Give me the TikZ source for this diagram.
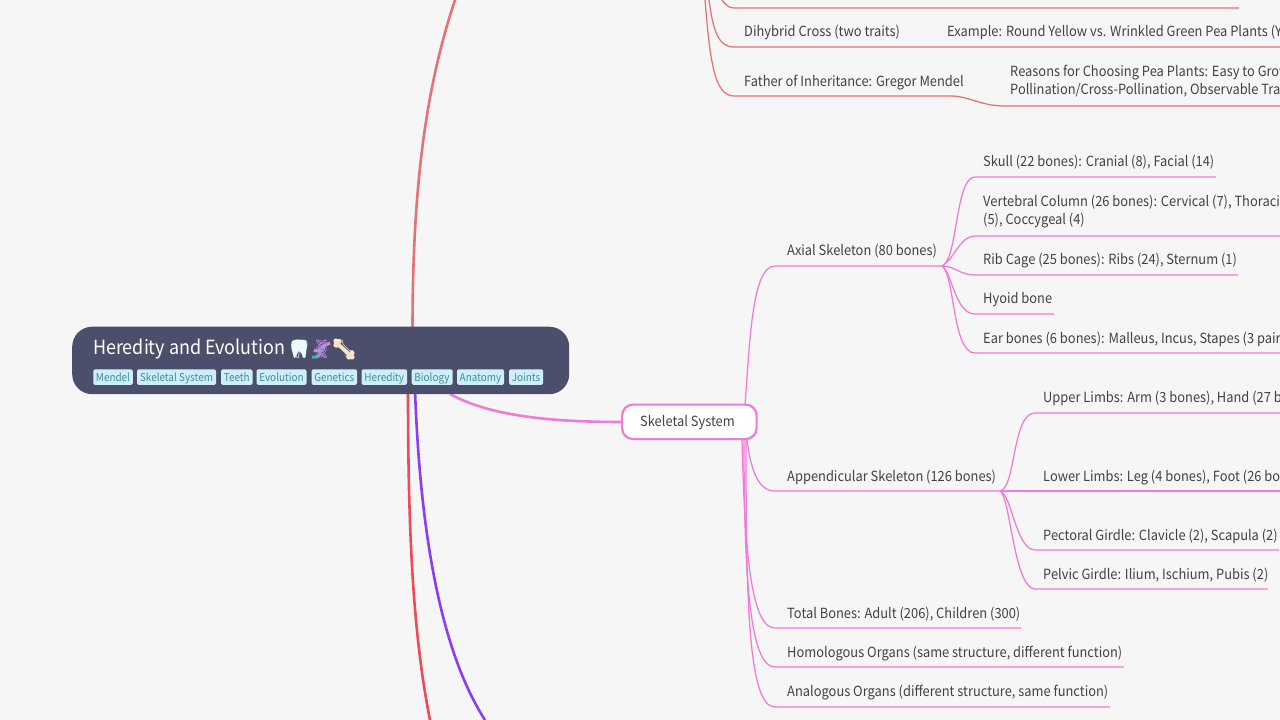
\documentclass[tikz,border=0pt]{standalone}
\usepackage{fontspec}
\setmainfont[FakeStretch=0.92]{Noto Sans CJK JP}
\newfontfamily\emojifont{Noto Emoji}
\definecolor{bgc}{HTML}{F6F6F6}
\definecolor{rootc}{HTML}{4C4F6B}
\definecolor{pinkc}{HTML}{F07AD6}
\definecolor{salmon}{HTML}{E57373}
\definecolor{redc}{HTML}{EF4A57}
\definecolor{purp}{HTML}{8A3DF5}
\definecolor{tagbg}{HTML}{CFEFF8}
\definecolor{tagfg}{HTML}{3F8AA0}
\definecolor{txt}{HTML}{424242}
\definecolor{dnap}{HTML}{C58AE8}
\definecolor{dnat}{HTML}{3CB7A6}
\definecolor{bonec}{HTML}{F6E3C8}
\tikzset{
 lbl/.style={anchor=base west,inner sep=0,text=txt,font=\fontsize{14}{19}\selectfont},
 tagn/.style={anchor=center,fill=tagbg,text=tagfg,rounded corners=1.5pt,inner sep=0pt,minimum height=15.5pt,text height=11pt,text depth=2.5pt,font=\fontsize{10.8}{12}\selectfont},
 br/.style={line width=1.25pt,draw=pinkc},
 brs/.style={line width=1.25pt,draw=salmon},
 emo/.style={anchor=base west,inner sep=0,font=\emojifont\fontsize{18}{20}\selectfont},
}
\begin{document}
\begin{tikzpicture}[x=1pt,y=-1pt]
\useasboundingbox (0,0) rectangle (1280,720);
\fill[bgc] (0,0) rectangle (1280,720);
% main branches
\draw[redc,line width=2.6pt] (408,390) .. controls (408,520) and (412,630) .. (430,720);
\draw[purp,line width=2.6pt] (415,390) .. controls (420,530) and (440,650) .. (485,720);
\draw[salmon,line width=2.6pt] (412.500,330) .. controls (412.500,190) and (425,90) .. (455,0);
\draw[pinkc,line width=2.6pt] (450,394) .. controls (490,416) and (550,422) .. (623,422);
% root
\node[fill=rootc,rounded corners=20pt,minimum width=497pt,minimum height=67.5pt,inner sep=0,anchor=north west] (root) at (72,326.500) {};
\node[anchor=base west,inner sep=0,text=white,font=\fontsize{19.5}{24}\selectfont] (title) at (93,354.500) {Heredity and Evolution};
% emoji colour fills
\fill[white!92!cyan] (292,341) .. controls (296,339) and (302,339) .. (306,341) .. controls (308,346) and (306,350) .. (305,358) .. controls (303,359) and (302,352) .. (299,351) .. controls (297,352) and (296,359) .. (294,358) .. controls (292,350) and (290,346) .. (292,341) -- cycle;
\draw[line width=3pt,draw=dnap] (314,350) .. controls (320,354) and (323,344) .. (330,343);
\draw[line width=3pt,draw=dnat] (312,357) .. controls (318,359) and (321,352) .. (322,348);
\draw[line width=3.6pt,draw=bonec,line cap=round] (338,344) -- (350,355);
\fill[bonec] (336,341) circle (2.6pt) (339,341.500) circle (2.6pt) (336,345) circle (2.6pt) (349,357) circle (2.6pt) (352,353) circle (2.6pt) (352,357) circle (2.6pt);
\node[emo,text=white!92!cyan] (e1) at (289,355) {🦷};
\node[emo,text=dnap] (e2) at (310,355) {🧬};
\node[emo,text=bonec] (e3) at (333,355) {🦴};
\foreach \nm/\x/\w/\t in {a/113/39.5/Mendel,b/176.500/79/Skeletal System,c/236.750/31.5/Teeth,d/281.500/50/Evolution,e/334.250/45.5/Genetics,f/384.250/45.5/Heredity,g/432/41/Biology,h/480.500/47/Anatomy,i/526/34/Joints}
  \node[tagn,minimum width=\w pt] (tag\nm) at (\x,377) {\t};
% Skeletal node
\node[draw=pinkc,fill=white,line width=2.2pt,rounded corners=11pt,minimum width=134.500pt,minimum height=34.500pt,inner sep=0,anchor=north west] (sk) at (621,403.500) {};
\node[lbl,text=txt] (skt) at (640,426) {Skeletal System};
% salmon
\draw[brs] (722,0) .. controls (725,4) and (728,8) .. (734,8) -- (1239,8);
\draw[brs] (709,0) .. controls (713,30) and (718,47) .. (734,47) -- (1280,47);
\draw[brs] (705,0) .. controls (710,60) and (714,96) .. (734,96) -- (950,96) .. controls (970,96) and (980,106) .. (1005,106) -- (1280,106);
\node[lbl] (d1) at (744,36) {Dihybrid Cross (two traits)};
\node[lbl] (d2) at (947,36) {Example: Round Yellow vs. Wrinkled Green Pea Plants (Yy};
\node[lbl] (d3) at (744,86) {Father of Inheritance: Gregor Mendel};
\node[lbl] (d4) at (1010,76) {Reasons for Choosing Pea Plants: Easy to Grow,};
\node[lbl] (d5) at (1010,94) {Pollination/Cross-Pollination, Observable Traits};
% pink level 2
\draw[br] (745,405) .. controls (750,340) and (752,266) .. (775,266) -- (942,266);
\draw[br] (747,440) .. controls (751,470) and (758,491) .. (775,491) -- (1000,491);
\draw[br] (742,440) .. controls (745,560) and (752,628) .. (775,628) -- (1021,628);
\draw[br] (744,440) .. controls (744,580) and (750,667) .. (775,667) -- (1124,667);
\draw[br] (746,440) .. controls (746,600) and (748,707) .. (775,707) -- (1110,707);
\node[lbl] (a1) at (787,255) {Axial Skeleton (80 bones)};
\node[lbl] (a2) at (787,481) {Appendicular Skeleton (126 bones)};
\node[lbl] (a3) at (787,618) {Total Bones: Adult (206), Children (300)};
\node[lbl] (a4) at (787,657) {Homologous Organs (same structure, different function)};
\node[lbl] (a5) at (787,696) {Analogous Organs (different structure, same function)};
% axial children
\draw[br] (942,266) .. controls (958,260) and (955,177) .. (975,177) -- (1216,177);
\draw[br] (942,266) .. controls (955,258) and (960,236) .. (975,236) -- (1280,236);
\draw[br] (942,266) .. controls (955,266) and (960,275) .. (975,275) -- (1238,275);
\draw[br] (942,266) .. controls (952,272) and (955,314) .. (975,314) -- (1054,314);
\draw[br] (942,266) .. controls (955,275) and (952,353) .. (975,353) -- (1280,353);
\node[lbl] (b1) at (983,166) {Skull (22 bones): Cranial (8), Facial (14)};
\node[lbl] (b2) at (983,206) {Vertebral Column (26 bones): Cervical (7), Thoracic (12),};
\node[lbl] (b2b) at (983,224) {(5), Coccygeal (4)};
\node[lbl] (b3) at (983,264) {Rib Cage (25 bones): Ribs (24), Sternum (1)};
\node[lbl] (b4) at (983,303) {Hyoid bone};
\node[lbl] (b5) at (983,343) {Ear bones (6 bones): Malleus, Incus, Stapes (3 pairs)};
% appendicular children
\draw[br] (1000,491) .. controls (1016,488) and (1012,413) .. (1035,413) -- (1280,413);
\draw[br] (1000,491) -- (1280,491);
\draw[br] (1000,491) .. controls (1012,495) and (1016,550) .. (1035,550) -- (1279,550);
\draw[br] (1000,491) .. controls (1010,495) and (1014,589) .. (1035,589) -- (1268,589);
\node[lbl] (c1) at (1043,402) {Upper Limbs: Arm (3 bones), Hand (27 bones)};
\node[lbl] (c2) at (1043,481) {Lower Limbs: Leg (4 bones), Foot (26 bones)};
\node[lbl] (c3) at (1043,540) {Pectoral Girdle: Clavicle (2), Scapula (2)};
\node[lbl] (c4) at (1043,579) {Pelvic Girdle: Ilium, Ischium, Pubis (2)};
\end{tikzpicture}
\end{document}
